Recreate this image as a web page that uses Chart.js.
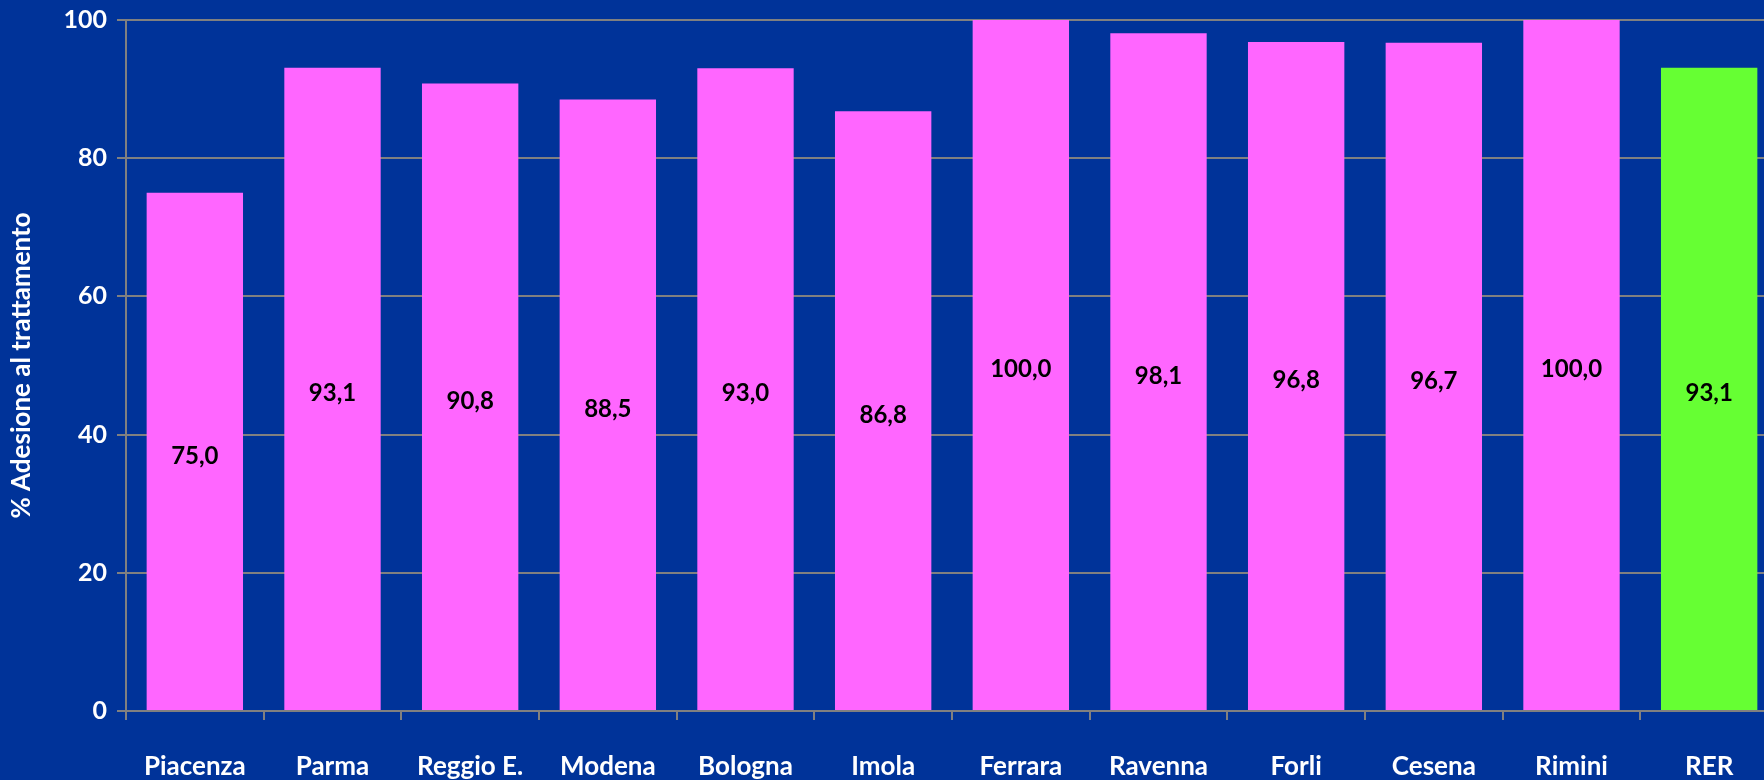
<!DOCTYPE html>
<html>
<head>
<meta charset="utf-8">
<script src="https://cdn.jsdelivr.net/npm/chart.js@4"></script>
<style>
  html, body { margin: 0; padding: 0; background: #003399; overflow: hidden; }
  #wrap { width: 1778px; height: 780px; }
</style>
</head>
<body>
<div id="wrap"><canvas id="adesioneChart"></canvas></div>
<script>
var categorie = ['Piacenza', 'Parma', 'Reggio E.', 'Modena', 'Bologna', 'Imola', 'Ferrara', 'Ravenna', 'Forli', 'Cesena', 'Rimini', 'RER'];
var adesione = [75.0, 93.1, 90.8, 88.5, 93.0, 86.8, 100.0, 98.1, 96.8, 96.7, 100.0, 93.1];
var coloriBarre = ['#FF66FF', '#FF66FF', '#FF66FF', '#FF66FF', '#FF66FF', '#FF66FF', '#FF66FF', '#FF66FF', '#FF66FF', '#FF66FF', '#FF66FF', '#66FF33'];
var tickY = [0, 20, 40, 60, 80, 100];

// etichette dei valori al centro delle barre
var etichetteValori = {
    id: 'etichetteValori',
    afterDatasetsDraw: function(chart) {
        var ctx = chart.ctx;
        var meta = chart.getDatasetMeta(0);
        var y = chart.scales.y;
        ctx.save();
        ctx.font = 'bold 24px Lato';
        ctx.fillStyle = '#000000';
        ctx.textAlign = 'center';
        ctx.textBaseline = 'middle';
        meta.data.forEach(function(bar, i) {
            var v = adesione[i];
            var py = y.getPixelForValue(v / 2) + 4;
            ctx.fillText(v.toFixed(1).replace('.', ','), bar.x, py);
        });
        ctx.restore();
    }
};

document.addEventListener('DOMContentLoaded', function() {
    var ctx = document.getElementById('adesioneChart').getContext('2d');
    new Chart(ctx, {
        type: 'bar',
        data: {
            labels: categorie,
            datasets: [{
                data: adesione,
                backgroundColor: coloriBarre,
                borderWidth: 0,
                barPercentage: 0.7,
                categoryPercentage: 1
            }]
        },
        options: {
            responsive: true,
            maintainAspectRatio: false,
            animation: false,
            layout: { padding: { top: 20, right: 0, left: 0, bottom: 0 } },
            plugins: {
                legend: { display: false },
                tooltip: { enabled: false }
            },
            scales: {
                x: {
                    afterFit: function(s) { s.height = 69; },
                    grid: {
                        display: true,
                        drawOnChartArea: false,
                        drawTicks: true,
                        tickLength: 9,
                        color: '#808080',
                        lineWidth: 2
                    },
                    border: { display: true, color: '#808080', width: 2 },
                    ticks: {
                        color: '#FFFFFF',
                        font: { family: 'Lato', size: 26, weight: 'bold' },
                        padding: 31,
                        maxRotation: 0,
                        autoSkip: false
                    }
                },
                y: {
                    min: 0,
                    max: 100,
                    afterFit: function(s) { s.width = 126; },
                    afterBuildTicks: function(s) {
                        s.ticks = tickY.map(function(v) { return { value: v }; });
                    },
                    grid: {
                        color: '#808080',
                        lineWidth: 2,
                        tickLength: 9
                    },
                    border: { display: true, color: '#808080', width: 2 },
                    ticks: {
                        color: '#FFFFFF',
                        font: { family: 'Lato', size: 25, weight: 'bold', lineHeight: 0.8 },
                        padding: 10
                    },
                    title: {
                        display: true,
                        text: '% Adesione al trattamento',
                        color: '#FFFFFF',
                        font: { family: 'Lato', size: 26, weight: 'bold' },
                        padding: { top: 6, bottom: 0 }
                    }
                }
            }
        },
        plugins: [etichetteValori]
    });
});
</script>
</body>
</html>
